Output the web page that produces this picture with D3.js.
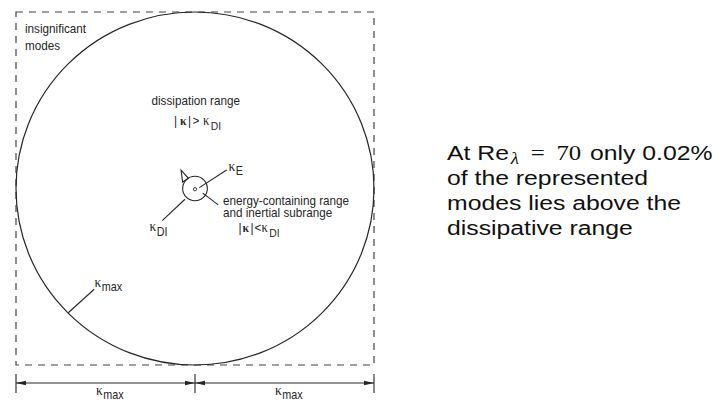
<!DOCTYPE html>
<html>
<head>
<meta charset="utf-8">
<script src="https://cdn.jsdelivr.net/npm/d3@7"></script>
<style>
  html, body { margin: 0; padding: 0; background: #fff; }
  svg { display: block; }
</style>
</head>
<body>
<svg id="chart" width="713" height="403"></svg>
<script>
// Wavenumber magnitudes, normalised by the largest resolved wavenumber
const waveNumberKeys = ["max", "DI", "E"];
const waveNumberValues = [1, 0.069, 0.009];

// Captions of the regions of wavenumber space
const regionCaptions = ["insignificant", "modes", "dissipation range",
  "energy-containing range", "and inertial subrange"];

// Widths marked below the box (each spans one κ_max)
const spanStarts = [-1, 0];
const spanEnds = [0, 1];

// Side note
const noteLines = ["of the represented", "modes lies above the", "dissipative range"];
const noteReynolds = "70";
const notePercent = "0.02%";

const kMax = waveNumberValues[0], kDI = waveNumberValues[1], kE = waveNumberValues[2];

const svg = d3.select("#chart");
const SANS = "'Liberation Sans', Arial, Helvetica, sans-serif";
const SERIF = "'Liberation Serif', 'Times New Roman', serif";
const INK = "#262626";
const FS = 13;      // caption size in the diagram
const SX = 0.9;     // captions are set slightly condensed

// Wavenumber plane (κ1, κ2) mapped onto the page
const kx = d3.scaleLinear().domain([-kMax, kMax]).range([16, 374]);
const ky = d3.scaleLinear().domain([kMax, -kMax]).range([12, 365]);
const P = (a, b) => [kx(a), ky(b)];

// Represented modes: dashed box |κi| < κmax
svg.append("rect")
  .attr("x", kx(-kMax)).attr("y", ky(kMax))
  .attr("width", kx(kMax) - kx(-kMax)).attr("height", ky(-kMax) - ky(kMax))
  .attr("fill", "none").attr("stroke", "#444").attr("stroke-width", 1.2)
  .attr("stroke-dasharray", "7,6");

// Sphere |κ| = κmax
svg.append("ellipse")
  .attr("cx", kx(0)).attr("cy", ky(0))
  .attr("rx", kx(kMax) - kx(0)).attr("ry", ky(-kMax) - ky(0))
  .attr("fill", "none").attr("stroke", INK).attr("stroke-width", 1.2);

// Sphere |κ| = κDI
svg.append("ellipse")
  .attr("cx", kx(0)).attr("cy", ky(0))
  .attr("rx", kx(kDI) - kx(0)).attr("ry", ky(-kDI) - ky(0))
  .attr("fill", "none").attr("stroke", INK).attr("stroke-width", 1.1);

// Energy-containing wavenumber κE
svg.append("circle")
  .attr("cx", kx(0)).attr("cy", ky(-0.004))
  .attr("r", kx(kE) - kx(0))
  .attr("fill", "none").attr("stroke", INK).attr("stroke-width", 0.9);

// Leader lines
const line = d3.line();
const leaders = [
  [P(0.024, 0.005), P(0.177, 0.105)],     // κE
  [P(-0.056, -0.061), P(-0.183, -0.182)], // κDI
  [P(0.043, -0.026), P(0.130, -0.093)],   // energy-containing range
  [P(-0.708, -0.704), P(-0.563, -0.571)]  // κmax
];
svg.selectAll("path.leader").data(leaders).join("path")
  .attr("class", "leader")
  .attr("d", line)
  .attr("fill", "none").attr("stroke", INK).attr("stroke-width", 1.1);

// Open arrowhead on the inner sphere
svg.append("path")
  .attr("d", line([P(-0.078, 0.104), P(-0.069, 0.037), P(-0.037, 0.058)]) + "Z")
  .attr("fill", "none").attr("stroke", INK).attr("stroke-width", 1.1);

// Text set at (x, y) with a horizontal condensing factor
function placed(x, y) {
  return svg.append("g").attr("transform", `translate(${x},${y}) scale(${SX},1)`);
}
function sans(x, y, s, size = FS) {
  return placed(x, y).append("text")
    .attr("fill", INK).attr("font-family", SANS).attr("font-size", size).text(s);
}
// κ symbol, optionally bold, with an optional subscript
function kappa(x, y, sub, opts = {}) {
  const t = placed(x, y).append("text")
    .attr("fill", INK).attr("font-family", SERIF).attr("font-size", opts.size || 15);
  t.append("tspan").text("κ")
    .attr("font-weight", opts.bold ? "bold" : null);
  if (sub) {
    t.append("tspan").text(sub)
      .attr("font-family", SANS)
      .attr("font-size", opts.subSize || 12)
      .attr("dx", opts.subDx == null ? 0.5 : opts.subDx)
      .attr("dy", opts.subDy == null ? 4.5 : opts.subDy);
  }
  return t;
}

sans(25, 33, regionCaptions[0]);
sans(25, 50, regionCaptions[1]);
sans(151.5, 105, regionCaptions[2]);
sans(223, 204.5, regionCaptions[3]);
sans(223, 217, regionCaptions[4]);

// |κ| > κDI
sans(174, 125, "|");
kappa(180, 125, null, {bold: true, size: 13});
sans(188, 125, "|");
sans(192.5, 125, ">");
kappa(203, 125, waveNumberKeys[1], {size: 14, subSize: 11.5, subDx: 1.5});

// |κ| < κDI
sans(238.5, 232, "|");
kappa(242.5, 232, null, {bold: true, size: 13});
sans(250.5, 232, "|");
sans(254.5, 232, "<");
kappa(261.5, 232, waveNumberKeys[1], {size: 14, subSize: 11.5, subDx: 1.5});

kappa(228.5, 171, waveNumberKeys[2], {subDy: 4});
kappa(149.5, 231, waveNumberKeys[1], {subDy: 5});
kappa(94.5, 287, waveNumberKeys[0], {subDy: 4});

// Extent arrows along κ1
const dimY = 383;
const ticks = [-kMax, 0, kMax];
svg.selectAll("line.tick").data(ticks).join("line")
  .attr("class", "tick")
  .attr("x1", d => kx(d)).attr("x2", d => kx(d))
  .attr("y1", 374).attr("y2", 393)
  .attr("stroke", INK).attr("stroke-width", 1.1);

const spans = spanStarts.map((s, i) => ({a: s, b: spanEnds[i]}));
svg.selectAll("line.span").data(spans).join("line")
  .attr("class", "span")
  .attr("x1", d => kx(d.a)).attr("x2", d => kx(d.b))
  .attr("y1", dimY).attr("y2", dimY)
  .attr("stroke", INK).attr("stroke-width", 1);

function arrowHead(xTip, dir) {
  const L = 10, W = 2.3;
  svg.append("path")
    .attr("d", `M${xTip},${dimY}L${xTip - dir * L},${dimY - W}L${xTip - dir * L},${dimY + W}Z`)
    .attr("fill", INK);
}
spans.forEach(d => { arrowHead(kx(d.a), -1); arrowHead(kx(d.b), 1); });

spans.forEach(d => {
  const xm = (kx(d.a) + kx(d.b)) / 2;
  kappa(xm - 9.5, 395, waveNumberKeys[0], {subDy: 4});
});

// Side note
const note = svg.append("g").attr("transform", "translate(447,0) scale(1.18,1)");
const first = note.append("text").attr("x", 0).attr("y", 160)
  .attr("fill", "#111").attr("font-family", SANS).attr("font-size", 21);
first.append("tspan").text("At Re");
first.append("tspan").text("λ").attr("font-family", SERIF).attr("font-style", "italic")
  .attr("font-size", 16).attr("dy", 4).attr("dx", 1.5);
first.append("tspan").text("=").attr("font-family", SERIF).attr("dy", -4).attr("dx", 10);
first.append("tspan").text(noteReynolds).attr("font-family", SERIF).attr("dx", 10);
first.append("tspan").text(" only " + notePercent).attr("dx", 1.6);
noteLines.forEach((s, i) => {
  note.append("text").attr("x", 0).attr("y", 185 + 25 * i)
    .attr("fill", "#111").attr("font-family", SANS).attr("font-size", 21).text(s);
});
</script>
</body>
</html>
